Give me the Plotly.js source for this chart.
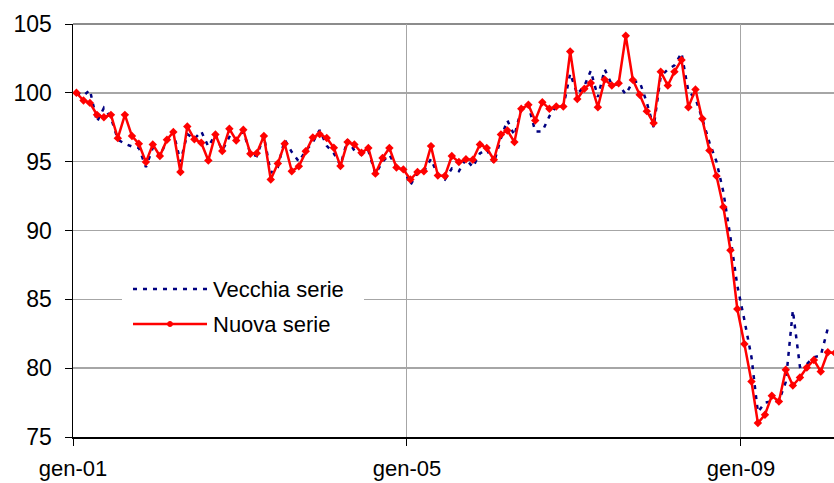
<!DOCTYPE html>
<html>
<head>
<meta charset="utf-8">
<script src="https://cdn.plot.ly/plotly-3.0.1.min.js"></script>
<style>html,body{margin:0;padding:0;background:#fff;}#chart{width:834px;height:483px;}</style>
</head>
<body>
<div id="chart"></div>
<script>
// Monthly series, January 2001 onward
const startYear = 2001;
const tickLabels = ["gen-01", "gen-05", "gen-09"];
const tickDates = ["2001-01-01", "2005-01-01", "2009-01-01"];
const seriesNames = ["Vecchia serie", "Nuova serie"];

const nuovaSerie = [
  100.0, 99.44, 99.27, 98.4, 98.23, 98.4, 96.71, 98.4, 96.86, 96.3,
  94.97, 96.25, 95.41, 96.59, 97.15, 94.25, 97.56, 96.62, 96.38, 95.09,
  96.98, 95.77, 97.39, 96.54, 97.32, 95.58, 95.62, 96.86, 93.7, 94.86,
  96.3, 94.3, 94.66, 95.75, 96.76, 97.0, 96.72, 96.01, 94.68, 96.42,
  96.25, 95.65, 95.99, 94.13, 95.26, 95.99, 94.57, 94.44, 93.7, 94.25,
  94.3, 96.13, 94.0, 93.96, 95.41, 94.97, 95.17, 95.14, 96.25, 95.99,
  95.14, 96.98, 97.27, 96.42, 98.84, 99.13, 97.99, 99.32, 98.84, 99.01,
  99.01, 103.0, 99.55, 100.29, 100.72, 98.96, 100.96, 100.53, 100.7, 104.15,
  100.94, 99.86, 98.67, 97.8, 101.54, 100.53, 101.54, 102.39, 98.96, 100.24,
  98.12, 95.82, 93.96, 91.71, 88.57, 84.3, 81.76, 79.03, 76.01, 76.62,
  77.99, 77.58, 79.88, 78.74, 79.32, 80.04, 80.6, 79.75, 81.16, 81.1
];

const vecchiaSerie = [
  100.0, 99.8, 100.2, 97.9, 98.9, 98.2, 96.6, 96.3, 96.1, 96.0,
  94.6, 96.0, 95.4, 96.55, 97.15, 95.0, 97.0, 96.65, 97.2, 96.1,
  96.98, 95.8, 96.8, 96.5, 97.2, 95.6, 95.4, 96.86, 94.2, 94.6,
  96.6, 95.7, 95.0, 95.8, 96.4, 97.3, 96.15, 95.6, 94.73, 96.6,
  95.8, 95.5, 95.8, 94.1, 95.0, 95.5, 94.6, 94.6, 93.3, 94.2,
  94.3, 95.2, 94.0, 93.7, 94.5, 94.3, 95.2, 94.6, 95.6, 95.9,
  94.9, 96.7, 98.0, 96.9, 98.8, 99.1, 97.2, 97.2, 98.3, 99.0,
  99.0, 101.4, 99.9, 100.5, 101.6, 99.7, 101.7, 100.6, 100.6, 99.9,
  100.8, 100.8, 99.3, 97.5, 101.2, 101.7, 102.0, 102.9, 100.1, 99.6,
  98.1, 96.4, 95.0, 92.8, 89.5, 86.0, 83.5, 80.8, 76.8, 77.5,
  77.6, 77.6, 79.0, 84.2, 80.1, 80.3, 80.8, 80.9, 82.9
];

function monthDates(n) {
  const out = [];
  for (let i = 0; i < n; i++) {
    const y = startYear + Math.floor(i / 12);
    const m = (i % 12) + 1;
    out.push(y + "-" + (m < 10 ? "0" + m : m) + "-16");
  }
  return out;
}

const xNuova = monthDates(nuovaSerie.length);
const xVecchia = monthDates(vecchiaSerie.length);

const FONT = "Liberation Sans, Arial, sans-serif";

const traces = [
  {
    x: xVecchia, y: vecchiaSerie, type: "scatter", mode: "lines",
    name: seriesNames[0],
    line: {color: "#000080", width: 2.5, dash: "4px,6px"},
    showlegend: false, hoverinfo: "skip"
  },
  {
    x: xNuova, y: nuovaSerie, type: "scatter", mode: "lines+markers",
    name: seriesNames[1],
    line: {color: "#ff0000", width: 2.5},
    marker: {color: "#ff0000", size: 6.5, symbol: "diamond"},
    showlegend: false, hoverinfo: "skip"
  }
];

// helpers: pixel -> paper
const L = 73, T = 24, W = 761, H = 413;
const px = v => (v - L) / W;
const py = v => (T + H - v) / H;

const layout = {
  width: 834, height: 483,
  margin: {l: L, r: 0, t: T, b: 483 - T - H, pad: 0},
  paper_bgcolor: "#ffffff", plot_bgcolor: "#ffffff",
  font: {family: FONT, size: 22, color: "#000"},
  showlegend: false,
  xaxis: {
    type: "date",
    range: ["2001-01-01", "2010-02-12"],
    tickvals: tickDates, ticktext: tickLabels,
    showgrid: true, gridcolor: "#a6a6a6", gridwidth: 1,
    showline: true, linecolor: "#000", linewidth: 1.5,
    ticks: "outside", ticklen: 7, tickcolor: "#000", tickwidth: 1,
    ticklabelstandoff: 4,
    tickfont: {family: FONT, size: 22, color: "#000"},
    zeroline: false, fixedrange: true
  },
  yaxis: {
    range: [75, 105], dtick: 5, tick0: 75,
    showgrid: true, gridcolor: "#a6a6a6", gridwidth: 1.5,
    showline: true, linecolor: "#000", linewidth: 1.5,
    ticks: "outside", ticklen: 7, tickcolor: "#000", tickwidth: 1,
    ticklabelstandoff: 8,
    tickfont: {family: FONT, size: 23, color: "#000"},
    zeroline: false, fixedrange: true
  },
  shapes: [
    {type: "line", xref: "paper", yref: "paper", x0: 0, x1: 1, y0: 1, y1: 1,
     line: {color: "#8c8c8c", width: 2}, layer: "below"},
    {type: "rect", xref: "paper", yref: "paper", x0: px(122), x1: px(364), y0: py(345), y1: py(268),
     fillcolor: "#ffffff", line: {width: 0}, layer: "above"},
    {type: "line", xref: "paper", yref: "paper", x0: px(133), x1: px(207), y0: py(289), y1: py(289),
     line: {color: "#000080", width: 2.5, dash: "4px,6px"}, layer: "above"},
    {type: "line", xref: "paper", yref: "paper", x0: px(133), x1: px(207), y0: py(324), y1: py(324),
     line: {color: "#ff0000", width: 2.5}, layer: "above"},
    {type: "circle", xref: "paper", yref: "paper", x0: px(167.5), x1: px(172.5), y0: py(326.5), y1: py(321.5),
     fillcolor: "#ff0000", line: {color: "#ff0000", width: 1}, layer: "above"}
  ],
  annotations: [
    {xref: "paper", yref: "paper", x: px(211), y: py(289), xanchor: "left", yanchor: "middle",
     text: seriesNames[0], showarrow: false, font: {family: FONT, size: 22, color: "#000"}},
    {xref: "paper", yref: "paper", x: px(211), y: py(324), xanchor: "left", yanchor: "middle",
     text: seriesNames[1], showarrow: false, font: {family: FONT, size: 22, color: "#000"}}
  ]
};

Plotly.newPlot("chart", traces, layout, {staticPlot: true, displayModeBar: false});
</script>
</body>
</html>
